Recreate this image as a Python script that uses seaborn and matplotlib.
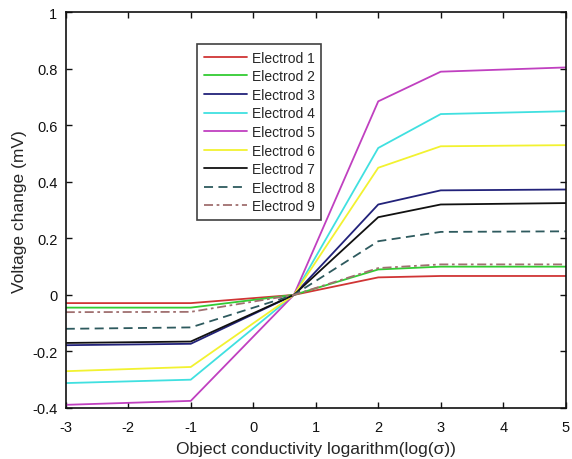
import pandas as pd
import matplotlib.pyplot as plt
import seaborn as sns

# Sampled conductivity points (log scale)
log_sigma = [-3, -1, 0.65, 2, 3, 5]

# Voltage change per electrode (mV)
electrod_1 = [-0.029, -0.029, 0, 0.062, 0.067, 0.067]
electrod_2 = [-0.045, -0.045, 0, 0.090, 0.100, 0.100]
electrod_3 = [-0.178, -0.173, 0, 0.320, 0.370, 0.373]
electrod_4 = [-0.312, -0.300, 0, 0.520, 0.640, 0.650]
electrod_5 = [-0.389, -0.375, 0, 0.685, 0.790, 0.805]
electrod_6 = [-0.270, -0.255, 0, 0.450, 0.526, 0.530]
electrod_7 = [-0.170, -0.165, 0, 0.275, 0.320, 0.325]
electrod_8 = [-0.120, -0.115, 0, 0.190, 0.223, 0.225]
electrod_9 = [-0.061, -0.060, 0, 0.095, 0.108, 0.108]

names = [f"Electrod {i}" for i in range(1, 10)]
series = [electrod_1, electrod_2, electrod_3, electrod_4, electrod_5,
          electrod_6, electrod_7, electrod_8, electrod_9]

colors = ["#d03535", "#33cc33", "#22227a", "#40e0e0", "#c040c0",
          "#f2f230", "#111111", "#2e5a5e", "#a07070"]
dashes = ["", "", "", "", "", "", "", (5, 3), (5, 2, 1.5, 2)]

rows = []
for name, vals in zip(names, series):
    for x, v in zip(log_sigma, vals):
        rows.append({"logsigma": x, "voltage": v, "Electrode": name})
df = pd.DataFrame(rows)

sns.set_style("ticks")
plt.rcParams['font.family'] = ['Liberation Sans', 'DejaVu Sans']
plt.rcParams['axes.unicode_minus'] = False

fig = plt.figure(figsize=(5.72, 4.6), dpi=100)
ax = fig.add_axes([0.115, 0.111, 0.874, 0.860])

sns.lineplot(data=df, x="logsigma", y="voltage", hue="Electrode", style="Electrode",
             palette=dict(zip(names, colors)), dashes=dict(zip(names, dashes)),
             linewidth=1.3, ax=ax)

ax.set_xlim(-3, 5)
ax.set_ylim(-0.4, 1)
ax.set_xticks(range(-3, 6))
ax.set_yticks([-0.4, -0.2, 0, 0.2, 0.4, 0.6, 0.8, 1])
ax.set_yticklabels(["-0.4", "-0.2", "0", "0.2", "0.4", "0.6", "0.8", "1"])
ax.tick_params(direction="in", length=4, width=1, labelsize=10.5,
               top=True, right=True, colors="#111111")
ax.tick_params(axis="x", pad=9)
ax.tick_params(axis="y", pad=6)
for sp in ax.spines.values():
    sp.set_visible(True)
    sp.set_linewidth(1.2)
    sp.set_color("#111111")

ax.set_xlabel("Object conductivity logarithm(log(σ))", fontsize=12.5, labelpad=5)
ax.set_ylabel("Voltage change (mV)", fontsize=12.5, labelpad=4)

leg = ax.legend(loc="upper left", bbox_to_anchor=(0.263, 0.919), fontsize=10,
                handlelength=3.1, labelspacing=0.33, frameon=True, fancybox=False,
                borderpad=0.45, handletextpad=0.4, borderaxespad=0)
leg.get_frame().set_edgecolor("#111111")
leg.get_frame().set_linewidth(1.2)

plt.savefig("out.png", dpi=100)
